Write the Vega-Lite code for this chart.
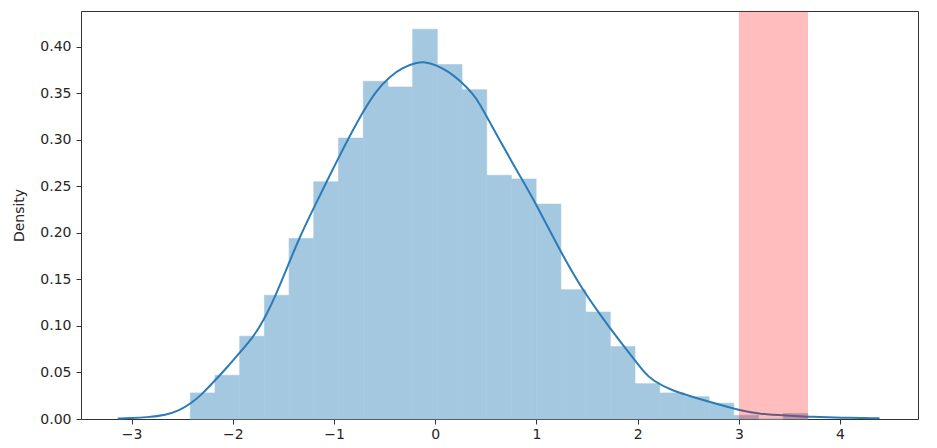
{
  "$schema": "https://vega.github.io/schema/vega-lite/v6.json",
  "width": 837,
  "height": 408,
  "autosize": "none",
  "padding": {"left": 81, "top": 11, "right": 19, "bottom": 29},
  "background": "white",
  "config": {
    "view": {"stroke": "#333333", "strokeWidth": 1},
    "axis": {
      "domain": false,
      "grid": false,
      "ticks": true,
      "tickColor": "#333333",
      "tickSize": 5,
      "labelFont": "DejaVu Sans",
      "labelFontSize": 14,
      "labelColor": "#262626",
      "titleFont": "DejaVu Sans",
      "titleFontSize": 14,
      "titleFontWeight": "normal",
      "titleColor": "#262626"
    }
  },
  "datasets": {
    "bins": [
      {"start": -2.420, "end": -2.176, "density": 0.028},
      {"start": -2.176, "end": -1.932, "density": 0.047},
      {"start": -1.932, "end": -1.688, "density": 0.089},
      {"start": -1.688, "end": -1.444, "density": 0.133},
      {"start": -1.444, "end": -1.200, "density": 0.194},
      {"start": -1.200, "end": -0.955, "density": 0.255},
      {"start": -0.955, "end": -0.711, "density": 0.302},
      {"start": -0.711, "end": -0.467, "density": 0.363},
      {"start": -0.467, "end": -0.223, "density": 0.357},
      {"start": -0.223, "end": 0.021, "density": 0.419},
      {"start": 0.021, "end": 0.265, "density": 0.381},
      {"start": 0.265, "end": 0.509, "density": 0.354},
      {"start": 0.509, "end": 0.753, "density": 0.262},
      {"start": 0.753, "end": 0.997, "density": 0.258},
      {"start": 0.997, "end": 1.242, "density": 0.231},
      {"start": 1.242, "end": 1.486, "density": 0.139},
      {"start": 1.486, "end": 1.730, "density": 0.115},
      {"start": 1.730, "end": 1.974, "density": 0.078},
      {"start": 1.974, "end": 2.218, "density": 0.038},
      {"start": 2.218, "end": 2.462, "density": 0.028},
      {"start": 2.462, "end": 2.706, "density": 0.024},
      {"start": 2.706, "end": 2.950, "density": 0.017},
      {"start": 2.950, "end": 3.194, "density": 0.004},
      {"start": 3.194, "end": 3.438, "density": 0.0},
      {"start": 3.438, "end": 3.683, "density": 0.006}
    ],
    "kde": [
      {"x": -3.137, "d": 0.0006},
      {"x": -3.0, "d": 0.001},
      {"x": -2.856, "d": 0.0017},
      {"x": -2.66, "d": 0.0043},
      {"x": -2.53, "d": 0.009},
      {"x": -2.41, "d": 0.017},
      {"x": -2.31, "d": 0.026},
      {"x": -2.18, "d": 0.041},
      {"x": -2.06, "d": 0.055},
      {"x": -1.934, "d": 0.071},
      {"x": -1.80, "d": 0.088},
      {"x": -1.704, "d": 0.104},
      {"x": -1.571, "d": 0.134},
      {"x": -1.44, "d": 0.169},
      {"x": -1.341, "d": 0.195},
      {"x": -1.21, "d": 0.225},
      {"x": -1.077, "d": 0.254},
      {"x": -0.978, "d": 0.276},
      {"x": -0.846, "d": 0.304},
      {"x": -0.716, "d": 0.330},
      {"x": -0.583, "d": 0.353},
      {"x": -0.452, "d": 0.368},
      {"x": -0.320, "d": 0.378},
      {"x": -0.188, "d": 0.383},
      {"x": -0.10, "d": 0.384},
      {"x": 0.0, "d": 0.381},
      {"x": 0.142, "d": 0.373},
      {"x": 0.251, "d": 0.363},
      {"x": 0.371, "d": 0.350},
      {"x": 0.438, "d": 0.339},
      {"x": 0.504, "d": 0.326},
      {"x": 0.635, "d": 0.300},
      {"x": 0.833, "d": 0.262},
      {"x": 0.998, "d": 0.231},
      {"x": 1.228, "d": 0.182},
      {"x": 1.426, "d": 0.144},
      {"x": 1.623, "d": 0.113},
      {"x": 1.821, "d": 0.084},
      {"x": 1.953, "d": 0.066},
      {"x": 2.058, "d": 0.051},
      {"x": 2.15, "d": 0.041},
      {"x": 2.348, "d": 0.030},
      {"x": 2.579, "d": 0.0226},
      {"x": 2.809, "d": 0.0154},
      {"x": 3.007, "d": 0.0093},
      {"x": 3.203, "d": 0.0054},
      {"x": 3.469, "d": 0.0036},
      {"x": 3.732, "d": 0.0022},
      {"x": 3.996, "d": 0.0014},
      {"x": 4.390, "d": 0.0007}
    ],
    "band": [{"x0": 3.0, "x1": 3.683}]
  },
  "layer": [
    {
      "data": {"name": "bins"},
      "mark": {"type": "rect", "color": "#a5c8e1", "opacity": 1, "stroke": "#a5c8e1", "strokeWidth": 0.6},
      "encoding": {
        "x": {
          "field": "start", "type": "quantitative",
          "scale": {"domain": [-3.5, 4.77], "nice": false, "zero": false},
          "axis": {"values": [-3, -2, -1, 0, 1, 2, 3, 4], "title": null, "format": "d", "labelPadding": 3}
        },
        "x2": {"field": "end"},
        "y": {
          "field": "density", "type": "quantitative",
          "scale": {"domain": [0, 0.4386], "nice": false},
          "axis": {"values": [0, 0.05, 0.1, 0.15, 0.2, 0.25, 0.3, 0.35, 0.4], "format": ".2f", "title": "Density", "labelPadding": 5, "titlePadding": 13}
        },
        "y2": {"datum": 0}
      }
    },
    {
      "data": {"name": "kde"},
      "mark": {"type": "line", "color": "#2c7bb6", "strokeWidth": 2, "interpolate": "basis"},
      "encoding": {
        "x": {"field": "x", "type": "quantitative"},
        "y": {"field": "d", "type": "quantitative"}
      }
    },
    {
      "data": {"name": "band"},
      "mark": {"type": "rect", "color": "#ff0000", "opacity": 0.26},
      "encoding": {
        "x": {"field": "x0", "type": "quantitative"},
        "x2": {"field": "x1"}
      }
    }
  ]
}
